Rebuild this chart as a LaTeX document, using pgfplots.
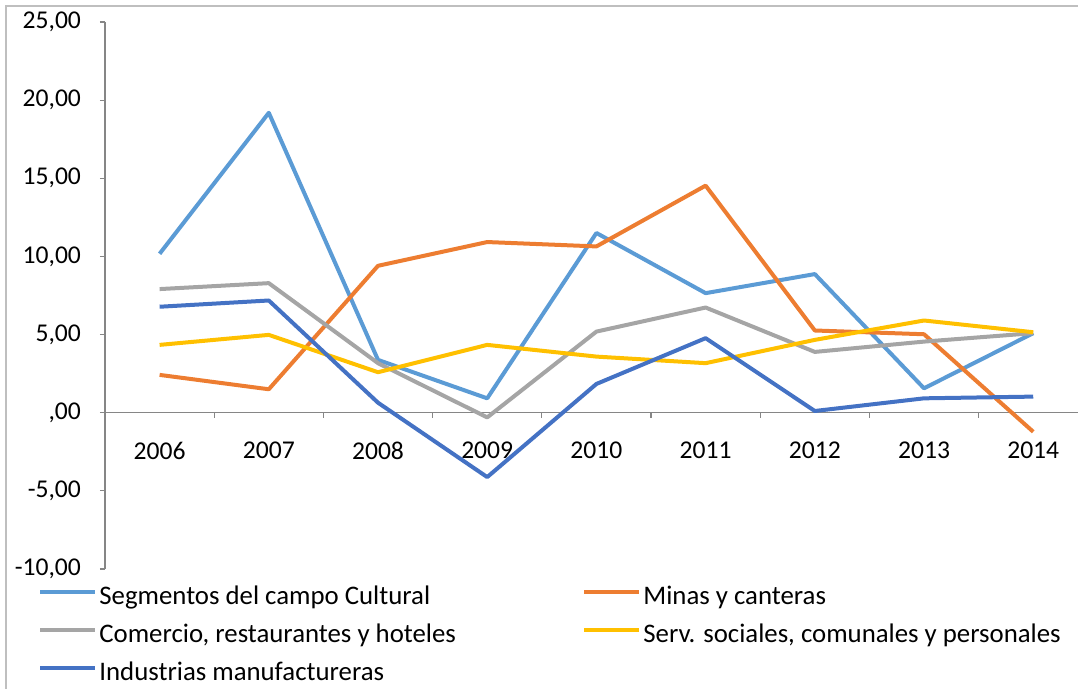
\documentclass[border=0pt]{standalone}
\usepackage{fontspec}
\setmainfont{Carlito}
\usepackage{pgfplots}
\pgfplotsset{compat=1.18}

\definecolor{cSeg}{HTML}{5B9BD5}
\definecolor{cMin}{HTML}{ED7D31}
\definecolor{cCom}{HTML}{A5A5A5}
\definecolor{cSer}{HTML}{FFC000}
\definecolor{cInd}{HTML}{4472C4}
\definecolor{axisgray}{HTML}{868686}
\definecolor{framegray}{HTML}{BFBFBF}

\begin{document}
\begin{tikzpicture}
\begin{axis}[
    scale only axis,
    width=486.5pt, height=273.5pt,
    xmin=-0.5, xmax=8.41,
    ymin=-10, ymax=25,
    axis y line*=left,
    axis x line*=middle,
    axis line style={axisgray, line width=0.6pt},
    xtick={0,...,8},
    xticklabels={2006,2007,2008,2009,2010,2011,2012,2013,2014},
    major x tick style={draw=none},
    minor xtick={0.5,1.5,...,7.5},
    minor x tick style={axisgray, line width=0.6pt},
    minor tick length=2.5pt,
    xtick align=outside,
    ytick={-10,-5,...,25},
    yticklabels={{-10,00},{-5,00},{,00},{5,00},{10,00},{15,00},{20,00},{25,00}},
    ytick align=outside,
    major y tick style={axisgray, line width=0.6pt},
    major tick length=2.5pt,
    tick label style={font=\fontsize{12.8}{15}\selectfont, black},
    yticklabel style={xshift=-6pt},
    xticklabel style={yshift=-8.5pt},
    every axis plot/.append style={line width=2pt, line join=round, no markers},
    legend columns=2,
    legend cell align=left,
    legend style={
        at={(axis description cs:0,0)}, anchor=north west,
        xshift=-33.5pt, yshift=-8.5pt,
        draw=none, fill=none, inner sep=0pt,
        font=\fontsize{13.4}{15}\selectfont,
        row sep=7pt,
        nodes={inner xsep=1pt, inner ysep=0pt, text height=9pt, text depth=3pt},
    },
    legend image code/.code={\draw[#1] (0pt,3pt) -- (27.5pt,3pt);},
]
\addplot[cSeg] coordinates {(0,10.17) (1,19.19) (2,3.38) (3,0.92) (4,11.50) (5,7.65) (6,8.87) (7,1.56) (8,5.09)};
\addlegendentry{\makebox[240.5pt][l]{Segmentos del campo Cultural}}
\addplot[cMin] coordinates {(0,2.42) (1,1.50) (2,9.40) (3,10.92) (4,10.64) (5,14.53) (6,5.26) (7,5.02) (8,-1.22)};
\addlegendentry{Minas y canteras}
\addplot[cCom] coordinates {(0,7.91) (1,8.29) (2,3.17) (3,-0.30) (4,5.19) (5,6.73) (6,3.89) (7,4.55) (8,5.09)};
\addlegendentry{\makebox[240.5pt][l]{Comercio, restaurantes y hoteles}}
\addplot[cSer] coordinates {(0,4.34) (1,4.98) (2,2.59) (3,4.34) (4,3.59) (5,3.17) (6,4.66) (7,5.90) (8,5.15)};
\addlegendentry{Serv. sociales, comunales y personales}
\addplot[cInd] coordinates {(0,6.78) (1,7.18) (2,0.64) (3,-4.12) (4,1.84) (5,4.77) (6,0.11) (7,0.92) (8,1.03)};
\addlegendentry{\makebox[240.5pt][l]{Industrias manufactureras}}
\end{axis}
\pgfresetboundingbox
\path[use as bounding box] ([xshift=-52.5pt,yshift=11pt]current axis.north west) rectangle ([yshift=-60pt]current axis.south east);
\draw[framegray, line width=0.8pt] ([xshift=-49.5pt,yshift=-60pt]current axis.south west) |- ([yshift=8pt]current axis.north east);
\end{tikzpicture}
\end{document}
